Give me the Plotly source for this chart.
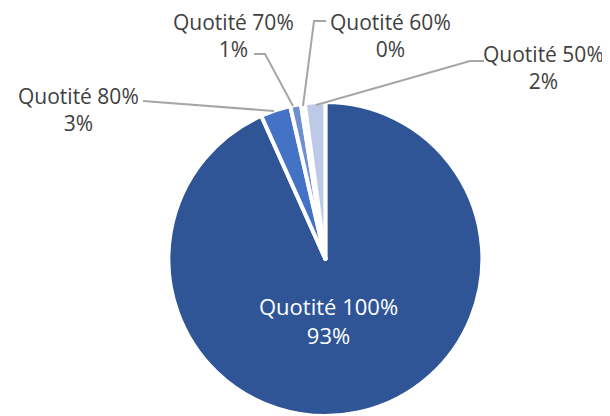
import plotly.graph_objects as go

# Data
labels = ["Quotité 100%", "Quotité 80%", "Quotité 70%", "Quotité 60%", "Quotité 50%"]
values = [93.3, 3.1, 1.1, 0.4, 2.1]
colors = ["#2F5597", "#4472C4", "#6F8FD3", "#8FAADC", "#BDCAE7"]

W, H = 610, 416
OFF = 8  # page body margin offset


def px(x):
    return (x - OFF) / W


def py(y):
    return 1 - (y - OFF) / H


# pie geometry (screen pixels)
cx, cy, r = 325.4, 259, 157

fig = go.Figure(go.Pie(
    labels=labels,
    values=values,
    sort=False,
    direction="clockwise",
    rotation=0,
    textinfo="none",
    hoverinfo="label+percent",
    marker=dict(colors=colors, line=dict(color="white", width=4)),
    domain=dict(x=[px(cx - r), px(cx + r)], y=[py(cy + r), py(cy - r)]),
    showlegend=False,
))

total = sum(values)
pct = [f"{round(v / total * 100)}%" for v in values]

# label positions (screen pixel centers of the two-line block) and leader lines
label_pos = [(328, 320), (78, 109), (233, 36), (390, 36), (543, 67)]
font_sizes = [22, 21, 21, 21, 21]
leaders = [
    None,
    [(143, 101), (274, 111)],
    [(254, 54), (265, 54), (293, 106)],
    [(326, 21), (314, 21), (303, 106)],
    [(484, 61), (470, 61), (316, 105)],
]

annotations = []
for i, (lab, p) in enumerate(zip(labels, pct)):
    x, y = label_pos[i]
    annotations.append(dict(
        x=px(x), y=py(y), xref="paper", yref="paper",
        text=f"{lab}<br>{p}", showarrow=False,
        xanchor="center", yanchor="middle",
        font=dict(family="Open Sans", size=font_sizes[i],
                  color="white" if i == 0 else "#404040"),
    ))

shapes = []
for pts in leaders:
    if not pts:
        continue
    path = "M " + " L ".join(f"{px(a)},{py(b)}" for a, b in pts)
    shapes.append(dict(type="path", xref="paper", yref="paper", path=path,
                       line=dict(color="#A6A6A6", width=2)))

fig.update_layout(
    width=W, height=H,
    margin=dict(l=0, r=0, t=0, b=0),
    paper_bgcolor="white",
    plot_bgcolor="white",
    annotations=annotations,
    shapes=shapes,
)

fig.write_html("out.html")
